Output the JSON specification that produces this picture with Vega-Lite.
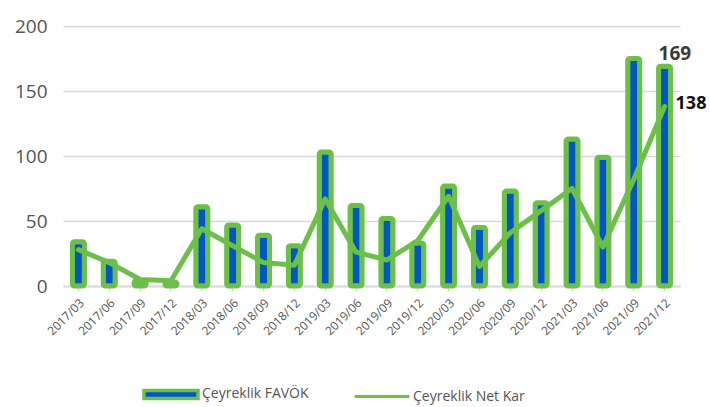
{
  "$schema": "https://vega.github.io/schema/vega-lite/v6.json",
  "autosize": {"type": "none"},
  "width": 617,
  "height": 260,
  "padding": {"left": 63, "top": 26, "right": 30, "bottom": 121},
  "background": "white",
  "config": {
    "view": {"stroke": null},
    "font": "Open Sans"
  },
  "data": {
    "values": [
      {"q": "2017/03", "favok": 34, "net": 28},
      {"q": "2017/06", "favok": 19, "net": 18},
      {"q": "2017/09", "favok": 4, "net": 5},
      {"q": "2017/12", "favok": 3, "net": 4},
      {"q": "2018/03", "favok": 61, "net": 44},
      {"q": "2018/06", "favok": 47, "net": 31},
      {"q": "2018/09", "favok": 39, "net": 18},
      {"q": "2018/12", "favok": 31, "net": 16},
      {"q": "2019/03", "favok": 103, "net": 67},
      {"q": "2019/06", "favok": 62, "net": 26},
      {"q": "2019/09", "favok": 52, "net": 20},
      {"q": "2019/12", "favok": 33, "net": 35},
      {"q": "2020/03", "favok": 77, "net": 69},
      {"q": "2020/06", "favok": 45, "net": 15},
      {"q": "2020/09", "favok": 73, "net": 41},
      {"q": "2020/12", "favok": 64, "net": 58},
      {"q": "2021/03", "favok": 113, "net": 75},
      {"q": "2021/06", "favok": 99, "net": 30},
      {"q": "2021/09", "favok": 175, "net": 82},
      {"q": "2021/12", "favok": 169, "net": 138, "lab1": "169", "lab2": "138"}
    ]
  },
  "encoding": {
    "x": {
      "field": "q",
      "type": "ordinal",
      "sort": null,
      "scale": {"paddingOuter": 0.2, "paddingInner": 0.4},
      "axis": {
        "title": null,
        "labelAngle": -45,
        "labelFontSize": 12,
        "labelColor": "#555555",
        "labelPadding": 6,
        "domainColor": "#d9d9d9",
        "domainWidth": 2,
        "tickColor": "#d9d9d9",
        "tickWidth": 1.5,
        "tickSize": 5
      }
    }
  },
  "layer": [
    {
      "mark": {"type": "bar", "width": 12, "stroke": "#6cc04a", "strokeWidth": 5, "cornerRadius": 2},
      "encoding": {
        "y": {
          "field": "favok",
          "type": "quantitative",
          "scale": {"domain": [0, 200]},
          "axis": {
            "title": null,
            "values": [0, 50, 100, 150, 200],
            "labelFontSize": 19,
            "labelColor": "#555555",
            "labelPadding": 16,
            "tickSize": 0,
            "domain": false,
            "gridColor": "#d9d9d9",
            "gridWidth": 1.5
          }
        },
        "fill": {
          "datum": "Çeyreklik FAVÖK",
          "scale": {"domain": ["Çeyreklik FAVÖK", "Çeyreklik Net Kar"], "range": ["#0057c2", "#6cc04a"]},
          "legend": {
            "title": null,
            "orient": "none",
            "legendX": 101,
            "legendY": 361,
            "direction": "horizontal",
            "symbolType": "M-1,-0.15H1V0.15H-1Z",
            "symbolSize": 2916,
            "symbolStrokeColor": "#6cc04a",
            "symbolStrokeWidth": 3.5,
            "labelFontSize": 14,
            "labelColor": "#555555",
            "labelOffset": 24,
            "columnPadding": 44,
            "encode": {
              "symbols": {
                "update": {
                  "fill": {"scale": "fill", "field": "value"},
                  "fillOpacity": {"value": 1},
                  "stroke": {"value": "#6cc04a"},
                  "strokeOpacity": {"value": 1},
                  "strokeWidth": {"signal": "datum.value === 'Çeyreklik FAVÖK' ? 3.5 : 1"},
                  "shape": {"signal": "datum.value === 'Çeyreklik FAVÖK' ? 'M-1,-0.15H1V0.15H-1Z' : 'M-1,-0.04H1V0.04H-1Z'"},
                  "opacity": {"value": 1}
                }
              }
            }
          }
        }
      }
    },
    {
      "mark": {"type": "line", "strokeWidth": 5, "strokeJoin": "round", "strokeCap": "round", "color": "#6cc04a"},
      "encoding": {
        "y": {"field": "net", "type": "quantitative"}
      }
    },
    {
      "transform": [{"filter": "isValid(datum.lab1)"}],
      "mark": {"type": "text", "align": "left", "baseline": "bottom", "dx": -6, "dy": -2, "fontSize": 19, "fontWeight": "bold", "color": "#3a3a3a"},
      "encoding": {
        "y": {"field": "favok", "type": "quantitative"},
        "text": {"field": "lab1"}
      }
    },
    {
      "transform": [{"filter": "isValid(datum.lab2)"}],
      "mark": {"type": "text", "align": "left", "baseline": "middle", "dx": 11, "dy": -3, "fontSize": 18, "fontWeight": "bold", "color": "#111111"},
      "encoding": {
        "y": {"field": "net", "type": "quantitative"},
        "text": {"field": "lab2"}
      }
    }
  ]
}
